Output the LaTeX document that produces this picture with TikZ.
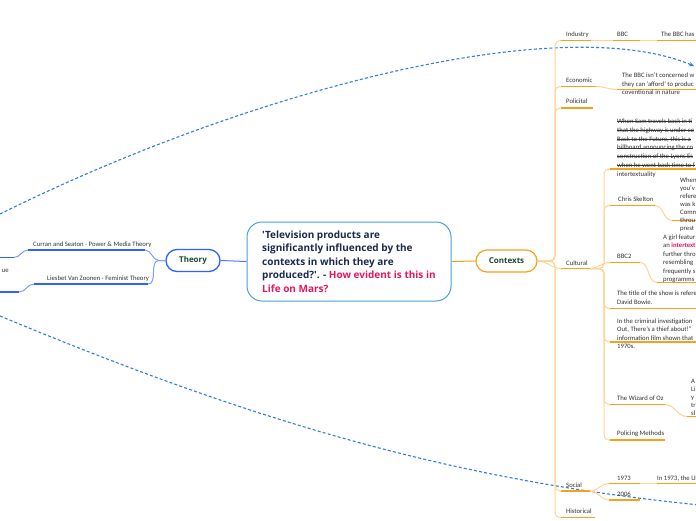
\documentclass[tikz,border=0pt]{standalone}
\usepackage{fontspec}
\setmainfont{Carlito}
\newfontfamily\opensans{Open Sans}
\usetikzlibrary{arrows.meta}
\definecolor{navy}{HTML}{1B2A4E}
\definecolor{hot}{HTML}{E8175D}
\definecolor{dgreen}{HTML}{1D4A2C}
\definecolor{ctrb}{HTML}{4A9FDF}
\definecolor{bU}{HTML}{2F62FF}
\definecolor{bL}{HTML}{7C9CFF}
\definecolor{oU}{HTML}{F9A01B}
\definecolor{oL}{HTML}{FFD494}
\definecolor{dashc}{HTML}{2F7FE0}
\definecolor{txt}{HTML}{333333}
\tikzset{
  lbl/.style={font=\fontsize{6.7}{8}\selectfont, text=txt, anchor=base west, inner sep=0pt},
  bul/.style={draw=bU, line width=1.8pt},
  bcon/.style={draw=bL, line width=1pt},
  oul/.style={draw=oU, line width=1.8pt},
  ocon/.style={draw=oL, line width=1pt},
  strike/.style={draw=txt, line width=0.45pt},
  dashline/.style={draw=dashc, line width=1.1pt, dash pattern=on 3pt off 2.2pt},
  ctrbox/.style={draw=ctrb, line width=1pt, fill=white, rounded corners=15pt,
    minimum width=204pt, minimum height=79pt, inner sep=0pt},
  ctrtext/.style={align=left, inner sep=0pt, anchor=west,
    font=\opensans\fontsize{10}{13.5}\selectfont\bfseries, text=navy},
  pill/.style={rounded corners=11pt, minimum height=22pt, inner sep=0pt,
    font=\opensans\fontsize{8}{10}\selectfont\bfseries, text=dgreen, fill=white}
}
\newcommand\paralines[5]{%
  \foreach \t [count=\i from 0] in {#5} {
    \node[lbl] (#1-\i) at (#2, {#3+\i*#4}) {\t};
  }}
\begin{document}
\begin{tikzpicture}[x=1pt,y=-1pt]
\useasboundingbox (0,0) rectangle (696,520);
\begin{scope}
\clip (0,0) rectangle (696,520);
\fill[white] (0,0) rectangle (696,520);

% ---------- central & main branches ----------
\node[ctrbox] (ctr) at (349,261.5) {};
\node[ctrtext] (ctrt) at (262,261.5) {'Television products are\\significantly influenced by the\\contexts in which they are\\produced?'. - \textcolor{hot}{How evident is this in}\\\textcolor{hot}{Life on Mars?}};
\node[pill, draw=bU, line width=1.3pt, minimum width=54pt] (th) at (193,260.5) {Theory};
\node[pill, draw=oU, line width=1.2pt, minimum width=61pt] (ctx) at (506.5,261) {Contexts};
\draw[draw=bU!85, line width=1pt] (ctr.west) -- (th.east);
\draw[draw=oU, line width=1pt] (ctr.east) -- (ctx.west);

% ---------- Theory side ----------
\coordinate (cur-l) at (28,250); \coordinate (cur-r) at (145,250);
\coordinate (lie-l) at (34,284); \coordinate (lie-r) at (148,284);
\node[lbl] (cur) at (33,246.5) {Curran and Seaton - Power \& Media Theory};
\node[lbl] (lie) at (47,280.5) {Liesbet Van Zoonen - Feminist Theory};
\draw[bul] (cur-l) -- (cur-r);
\draw[bul] (lie-l) -- (lie-r);
\draw[bcon] (th.west) -- (159,260.5) to[out=180,in=0] (cur-r);
\draw[bcon] (th.west) -- (159,260.5) to[out=180,in=0] (lie-r);
\coordinate (ca-l) at (-5,257.5); \coordinate (ca-r) at (14,257.5);
\coordinate (la-l) at (-5,292); \coordinate (la-r) at (19,292);
\draw[bul] (ca-l) -- (ca-r);
\draw[bul] (la-l) -- (la-r);
\draw[bcon] (cur-l) to[out=180,in=0] (ca-r);
\draw[bcon] (lie-l) to[out=180,in=0] (la-r);
\node[lbl, anchor=base east] (ue) at (9,272.5) {ue};

% ---------- dashed links ----------
\coordinate (dA) at (0,214); \coordinate (dB) at (694,66);
\draw[dashline, -{Stealth[length=5pt,width=4.5pt]}] (dA) .. controls (250,90) and (560,10) .. (dB);
\coordinate (dC) at (0,316); \coordinate (dD) at (700,505);
\draw[dashline] (dC) .. controls (250,420) and (450,480) .. (dD);

% ---------- Contexts children ----------
\coordinate (ind-l) at (561,40.5); \coordinate (ind-r) at (591,40.5);
\coordinate (eco-l) at (561,86.5); \coordinate (eco-r) at (596,86.5);
\coordinate (pol-l) at (561,108); \coordinate (pol-r) at (593,108);
\coordinate (cul-l) at (561,268.5); \coordinate (cul-r) at (590,268.5);
\coordinate (soc-l) at (561,491); \coordinate (soc-r) at (590,491);
\coordinate (his-l) at (561,517.5); \coordinate (his-r) at (595,517.5);
\foreach \n in {ind,eco,pol,soc,his}{
  \draw[ocon, rounded corners=5pt] (ctx.east) -| ([xshift=-6pt]\n-l) -- (\n-l);
}
\draw[ocon] (ctx.east) to[out=0,in=180] (cul-l);
\foreach \n in {ind,eco,pol,cul,soc,his}{ \draw[oul] (\n-l) -- (\n-r); }
\node[lbl] (ind) at (566,36.5) {Industry};
\node[lbl] (eco) at (566,82.5) {Economic};
\node[lbl] (pol) at (566,103.5) {Policital};
\node[lbl] (cul) at (566,265) {Cultural};
\node[lbl] (soc) at (566,487.5) {Social};
\node[lbl] (his) at (566,513.5) {Historical};

% Industry chain
\coordinate (bbc-l) at (613,40.5); \coordinate (bbc-r) at (640,40.5);
\coordinate (has-l) at (657,40.5); \coordinate (has-r) at (700,40.5);
\draw[ocon] (ind-r) -- (bbc-l);
\draw[ocon] (bbc-r) -- (has-l);
\draw[oul] (bbc-l) -- (bbc-r);
\draw[oul] (has-l) -- (has-r);
\node[lbl] (bbc) at (617,36.5) {BBC};
\node[lbl] (has) at (661,36.5) {The BBC has};

% Economic child
\coordinate (ecc-l) at (617,89.5); \coordinate (ecc-r) at (700,89.5);
\draw[ocon] (eco-r) to[out=0,in=180] (ecc-l);
\draw[oul] (ecc-l) -- (ecc-r);
\paralines{ecc}{622}{77.5}{8.5}{{The BBC isn't concerned w},{they can 'afford' to produc},{coventional in nature}}

% ---------- Cultural children ----------
\coordinate (sam-l) at (610,169); \coordinate (sam-r) at (700,169);
\coordinate (cs-l) at (610,205.5); \coordinate (cs-r) at (655,205.5);
\coordinate (b2-l) at (610,262.5); \coordinate (b2-r) at (640,262.5);
\coordinate (tit-l) at (610,308.5); \coordinate (tit-r) at (700,308.5);
\coordinate (cri-l) at (610,342); \coordinate (cri-r) at (700,342);
\coordinate (wiz-l) at (610,404.5); \coordinate (wiz-r) at (665,404.5);
\coordinate (pmt-l) at (610,440); \coordinate (pmt-r) at (665,440);
\foreach \n in {sam,cs,tit,cri,wiz,pmt}{
  \draw[ocon, rounded corners=5pt] (cul-r) -| ([xshift=-6pt]\n-l) -- (\n-l);
}
\draw[ocon] (cul-r) to[out=0,in=180] (b2-l);
\foreach \n in {sam,cs,b2,tit,cri,wiz,pmt}{ \draw[oul] (\n-l) -- (\n-r); }

\paralines{sam}{617}{123.5}{8.8}{{When Sam travels back in ti},{that the highway is under co},{Back to the Future, this is a},{billboard announcing the co},{construction of the Lyons Es},{when he went back time to f},{intertextuality}}
\foreach \i in {0,...,5}{ \draw[strike] ([yshift=2pt]sam-\i.base west) -- ([yshift=2pt]sam-\i.base east); }
\node[lbl] (cs) at (618,201.5) {Chris Skelton};
\node[lbl] (b2) at (617,258.5) {BBC2};
\paralines{tit}{617}{295.5}{8.8}{{The title of the show is refere},{David Bowie.}}
\paralines{cri}{617}{323}{8.6}{{In the criminal investigation},{Out, There's a thief about!"},{information film shown that},{1970s.}}
\node[lbl] (wiz) at (617,400.5) {The Wizard of Oz};
\node[lbl] (pmt) at (617,435.5) {Policing Methods};

% Chris Skelton child
\coordinate (csc-l) at (672,220.5); \coordinate (csc-r) at (700,220.5);
\draw[ocon] (cs-r) to[out=0,in=180] (csc-l);
\draw[oul] (csc-l) -- (csc-r);
\paralines{csc}{680}{182}{8}{{When},{you'v},{refere},{was k},{Comm},{throu},{prest}}

% BBC2 child
\coordinate (b2c-l) at (657,282.5); \coordinate (b2c-r) at (700,282.5);
\draw[ocon] (b2-r) to[out=0,in=180] (b2c-l);
\draw[oul] (b2c-l) -- (b2c-r);
\paralines{b2c}{663}{239.5}{8.4}{{A girl featur},{an \textcolor{hot}{\bfseries intertext}},{further thro},{resembling},{frequently s},{programms}}

% Wizard child
\coordinate (wzc-l) at (687,416.5); \coordinate (wzc-r) at (700,416.5);
\draw[ocon] (wiz-r) to[out=0,in=180] (wzc-l);
\draw[oul] (wzc-l) -- (wzc-r);
\paralines{wzc}{691}{383.5}{8}{{A},{Li},{y},{tr},{sl}}

% ---------- Social children ----------
\coordinate (y73-l) at (609,483.5); \coordinate (y73-r) at (640,483.5);
\coordinate (y06-l) at (609,500); \coordinate (y06-r) at (640,500);
\coordinate (u73-l) at (657,483.5); \coordinate (u73-r) at (700,483.5);
\draw[ocon] (soc-r) to[out=0,in=180] (y73-l);
\draw[ocon] (soc-r) to[out=0,in=180] (y06-l);
\draw[ocon] (y73-r) -- (u73-l);
\draw[oul] (y73-l) -- (y73-r);
\draw[oul] (y06-l) -- (y06-r);
\draw[oul] (u73-l) -- (u73-r);
\node[lbl] (y73) at (617,480) {1973};
\node[lbl] (y06) at (617,496) {2006};
\node[lbl] (u73) at (657,480) {In 1973, the UK};
\end{scope}
\end{tikzpicture}
\end{document}
